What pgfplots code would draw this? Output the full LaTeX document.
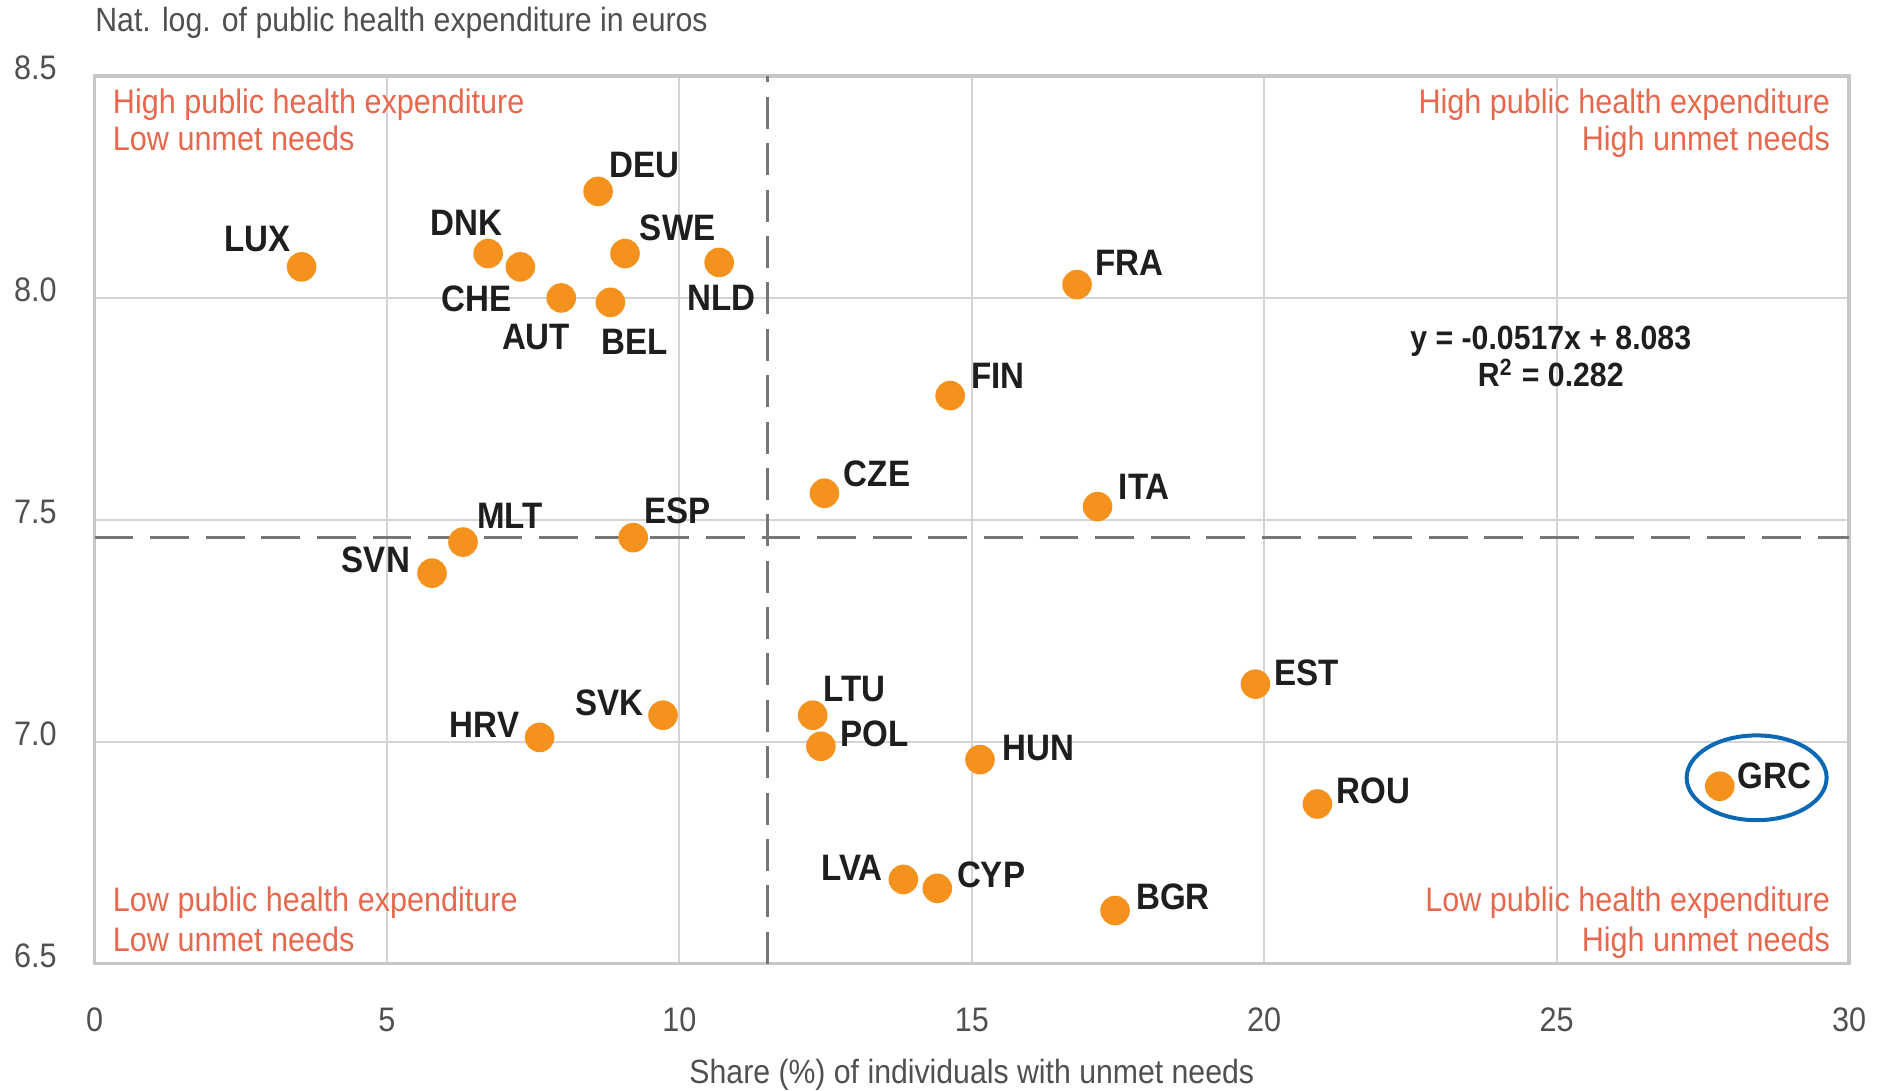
\documentclass[border=0pt]{standalone}
\usepackage{fontspec}
\setmainfont{Liberation Sans}[FakeStretch=0.9]
\usepackage{pgfplots}
\usepackage{pgfplotstable}
\pgfplotsset{compat=1.18}

\definecolor{dotorange}{HTML}{F5921E}
\definecolor{quadred}{HTML}{E8684E}
\definecolor{ringblue}{HTML}{0A68B4}
\definecolor{ticktext}{HTML}{505050}
\definecolor{labtext}{HTML}{1E1E1E}
\definecolor{dashgray}{HTML}{777777}

% unmet needs (%) vs. log public health expenditure
\pgfplotstableread{
x     y     name
3.54  8.07  LUX
6.73  8.10  DNK
7.28  8.07  CHE
7.98  8.00  AUT
8.82  7.99  BEL
8.61  8.24  DEU
9.07  8.10  SWE
10.68 8.08  NLD
16.80 8.03  FRA
14.63 7.78  FIN
12.48 7.56  CZE
17.15 7.53  ITA
6.30  7.45  MLT
9.21  7.46  ESP
5.77  7.38  SVN
9.72  7.06  SVK
7.61  7.01  HRV
12.28 7.06  LTU
12.42 6.99  POL
15.14 6.96  HUN
19.85 7.13  EST
20.91 6.86  ROU
27.79 6.90  GRC
13.83 6.69  LVA
14.41 6.67  CYP
17.45 6.62  BGR
}\countries

\begin{document}
\begin{tikzpicture}[
  lab/.style={font=\fontsize{9.2}{11}\selectfont\bfseries, text=labtext, inner sep=0pt},
  quad/.style={font=\fontsize{8.5}{10}\selectfont, text=quadred, inner sep=0pt},
]
\begin{axis}[
  scale only axis,
  width=438.7pt, height=222pt,
  xmin=0, xmax=30, ymin=6.5, ymax=8.5,
  xtick={0,5,...,30},
  ytick={6.5,7,7.5,8,8.5},
  clip=false,
  grid=major,
  grid style={draw=black!17, line width=0.5pt},
  axis line style={draw=black!22, line width=0.8pt},
  major tick length=0pt,
  /pgf/number format/assume math mode=true,
  yticklabel style={/pgf/number format/fixed, /pgf/number format/fixed zerofill,
    /pgf/number format/precision=1, anchor=east, inner sep=0pt, xshift=-9.3pt, yshift=2pt,
    font=\fontsize{8.5}{10}\selectfont, text=ticktext},
  xticklabel style={anchor=center, inner sep=0pt, yshift=-14pt,
    font=\fontsize{8.5}{10}\selectfont, text=ticktext},
]
% mean lines
\addplot[dashgray, line width=0.75pt, dash pattern=on 8pt off 3.6pt] coordinates {(11.5,6.5) (11.5,8.5)};
\addplot[dashgray, line width=0.75pt, dash pattern=on 9.7pt off 4.2pt] coordinates {(0,7.461) (30,7.461)};

\addplot[only marks, color=dotorange, mark=*, mark size=3.5pt, mark options={fill=dotorange, draw=dotorange}] table[x=x, y=y] {\countries};

\node[lab] at (axis cs:2.78,8.132) {LUX};
\node[lab] at (axis cs:6.36,8.170) {DNK};
\node[lab] at (axis cs:6.53,7.997) {CHE};
\node[lab] at (axis cs:7.55,7.911) {AUT};
\node[lab] at (axis cs:9.23,7.900) {BEL};
\node[lab] at (axis cs:9.41,8.299) {DEU};
\node[lab] at (axis cs:9.97,8.159) {SWE};
\node[lab] at (axis cs:10.72,8.000) {NLD};
\node[lab] at (axis cs:17.70,8.078) {FRA};
\node[lab] at (axis cs:15.45,7.825) {FIN};
\node[lab] at (axis cs:13.38,7.604) {CZE};
\node[lab] at (axis cs:17.95,7.574) {ITA};
\node[lab] at (axis cs:7.10,7.509) {MLT};
\node[lab] at (axis cs:9.97,7.520) {ESP};
\node[lab] at (axis cs:4.81,7.410) {SVN};
\node[lab] at (axis cs:8.80,7.089) {SVK};
\node[lab] at (axis cs:6.67,7.038) {HRV};
\node[lab] at (axis cs:12.99,7.119) {LTU};
\node[lab] at (axis cs:13.34,7.019) {POL};
\node[lab] at (axis cs:16.14,6.987) {HUN};
\node[lab] at (axis cs:20.73,7.156) {EST};
\node[lab] at (axis cs:21.87,6.889) {ROU};
\node[lab] at (axis cs:28.73,6.924) {GRC};
\node[lab] at (axis cs:12.95,6.717) {LVA};
\node[lab] at (axis cs:15.33,6.701) {CYP};
\node[lab] at (axis cs:18.44,6.650) {BGR};

\node[font=\fontsize{8.4}{9.4}\selectfont\bfseries, text=labtext, align=center, inner sep=0pt]
  at (axis cs:24.9,7.868) {y = -0.0517x + 8.083\\R\textsuperscript{2} = 0.282};

\node[quad, anchor=base west] at (axis cs:0.3,8.415) {High public health expenditure};
\node[quad, anchor=base west] at (axis cs:0.3,8.332) {Low unmet needs};
\node[quad, anchor=base east] at (axis cs:29.69,8.415) {High public health expenditure};
\node[quad, anchor=base east] at (axis cs:29.69,8.332) {High unmet needs};
\node[quad, anchor=base west] at (axis cs:0.3,6.617) {Low public health expenditure};
\node[quad, anchor=base west] at (axis cs:0.3,6.528) {Low unmet needs};
\node[quad, anchor=base east] at (axis cs:29.69,6.617) {Low public health expenditure};
\node[quad, anchor=base east] at (axis cs:29.69,6.528) {High unmet needs};

\draw[ringblue, line width=1pt] (axis cs:28.42,6.919) ellipse [x radius=17.5pt, y radius=10.6pt];

\coordinate (bl) at (rel axis cs:0,0);
\coordinate (tr) at (rel axis cs:1,1);
\coordinate (tl) at (rel axis cs:0,1);
\coordinate (bc) at (rel axis cs:0.5,0);
\end{axis}
\node[anchor=west, inner sep=0pt, font=\fontsize{8.4}{10}\selectfont, text=ticktext] at ([yshift=13.3pt]tl) {Nat. log. of public health expenditure in euros};
\node[anchor=center, inner sep=0pt, font=\fontsize{8.4}{10}\selectfont, text=ticktext] at ([yshift=-27.8pt]bc) {Share (\%) of individuals with unmet needs};
\pgfresetboundingbox
\path[use as bounding box] ([shift={(-23.65pt,-31.75pt)}]bl) rectangle ([shift={(7pt,19pt)}]tr);
\end{tikzpicture}
\end{document}
